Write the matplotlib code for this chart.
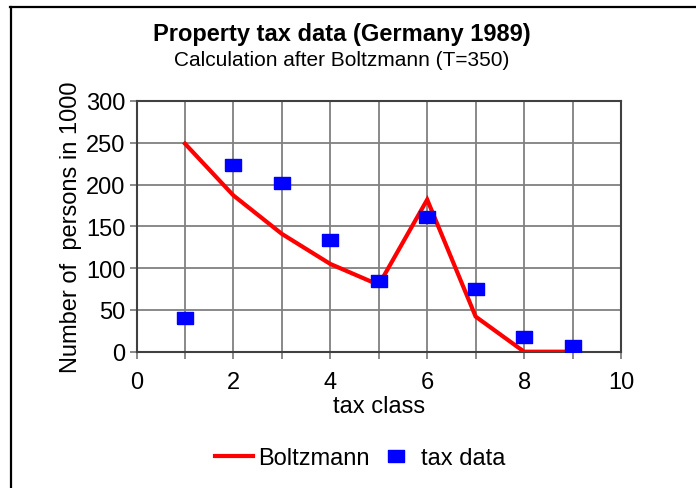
import matplotlib
matplotlib.use("Agg")
import matplotlib.pyplot as plt
from matplotlib.lines import Line2D

plt.rcParams["font.family"] = ["Liberation Sans", "DejaVu Sans"]

# data
tax_class = [1, 2, 3, 4, 5, 6, 7, 8, 9]
boltzmann = [249, 187, 141, 105, 80, 182, 42, 0, 0]
tax_data = [40, 224, 202, 134, 85, 161, 75, 18, 7]

W, H = 696, 489
fig = plt.figure(figsize=(W / 100, H / 100), dpi=100)
ax = fig.add_axes([136.5 / W, 1 - 352.7 / H, (621 - 136.5) / W, (352.7 - 102) / H])

# wide-ish rectangle marker like the spreadsheet export
rect = [(-1.35, -1), (1.35, -1), (1.35, 1), (-1.35, 1), (-1.35, -1)]

ax.plot(tax_class, boltzmann, color="#ff0000", lw=3, solid_joinstyle="miter",
        label="Boltzmann", zorder=3)
ax.plot(tax_class, tax_data, ls="none", marker=rect, ms=11, color="#0000ff",
        mec="#0000ff", label="tax data", zorder=4)

ax.set_xlim(0, 10)
ax.set_ylim(0, 300)
ax.set_xticks(range(0, 11, 2))
ax.set_xticks(range(0, 11), minor=True)
ax.set_yticks(range(0, 301, 50))
ax.grid(True, which="both", color="#808080", lw=1.3)
ax.set_axisbelow(True)

for s in ax.spines.values():
    s.set_color("#404040")
    s.set_linewidth(1.5)

ax.tick_params(axis="both", which="both", direction="out", length=5,
               width=1.3, color="#808080", labelsize=17)
ax.tick_params(axis="x", pad=9)
ax.tick_params(axis="y", pad=3)

ax.set_xlabel("tax class", fontsize=17, labelpad=1)
ax.set_ylabel("Number of  persons in 1000", fontsize=17, labelpad=3)

fig.text(342 / W, 1 - 34 / H, "Property tax data (Germany 1989)", ha="center",
         va="center", fontsize=17, fontweight="bold")
fig.text(342 / W, 1 - 60 / H, "Calculation after Boltzmann (T=350)", ha="center",
         va="center", fontsize=15)

handles = [Line2D([], [], color="#ff0000", lw=3),
           Line2D([], [], ls="none", marker=rect, ms=11, color="#0000ff")]
fig.legend(handles, ["Boltzmann", "tax data"], loc="center",
           bbox_to_anchor=(360 / W, 1 - 459 / H), ncol=2, frameon=False,
           fontsize=17, handlelength=1.6, handletextpad=0.25, columnspacing=0.3)

# outer frame: only left and top edges are visible in the reference
fig.add_artist(Line2D([11 / W, 11 / W], [0, 1 - 7.5 / H], color="black", lw=1.6,
                      transform=fig.transFigure))
fig.add_artist(Line2D([10.2 / W, 1], [1 - 7.5 / H, 1 - 7.5 / H], color="black",
                      lw=1.6, transform=fig.transFigure))

fig.savefig("out.png", dpi=100)
